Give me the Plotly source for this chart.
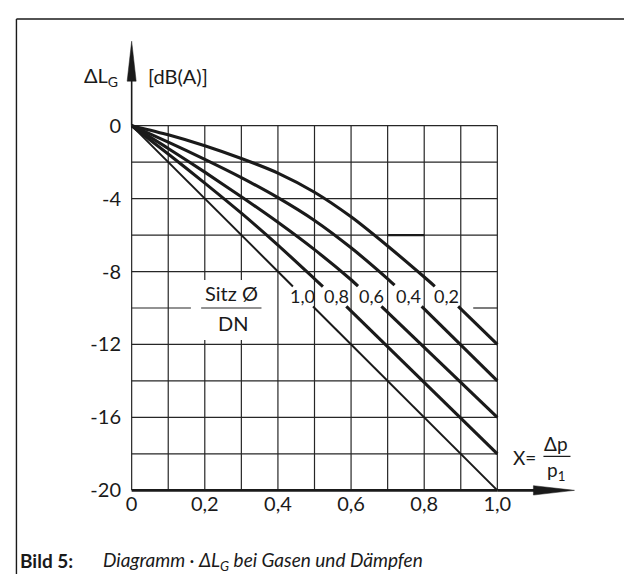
import plotly.graph_objects as go

# ---------------- data ----------------
x_tickvals = [0, 0.2, 0.4, 0.6, 0.8, 1.0]
x_ticktext = ["0", "0,2", "0,4", "0,6", "0,8", "1,0"]
y_tickvals = [0, -4, -8, -12, -16, -20]
y_ticktext = ["0", "-4", "-8", "-12", "-16", "-20"]

grid_x = [0, 0.1, 0.2, 0.3, 0.4, 0.5, 0.6, 0.7, 0.8, 0.9, 1.0]
grid_y = [0, -2, -4, -6, -8, -10, -12, -14, -16, -18, -20]

# vertical grid lines broken behind the "Sitz Ø / DN" label
box_break_x = [0.2, 0.3]
box_break_y = [-8.47, -11.75]
# pieces of the -10 grid line that remain visible
line10_pieces = [[0, 0.162], [0.19, 0.355], [0.934, 1.0]]
# thicker grid piece at -6
thick_piece_x = [0.7, 0.8]
thick_piece_y = [-6, -6]

ratio_labels = ["1,0", "0,8", "0,6", "0,4", "0,2"]
label_x = [0.468, 0.560, 0.656, 0.756, 0.86]
label_y = -9.36

# Sitz/DN = 1.0
c10_up_x = [0, 0.441]
c10_up_y = [0, -8.82]
c10_lo_x = [0.496, 1.0]
c10_lo_y = [-9.92, -20]
# Sitz/DN = 0.8
c08_up_x = [0, 0.1, 0.2, 0.3, 0.4, 0.5, 0.523]
c08_up_y = [0, -1.55, -3.15, -4.8, -6.55, -8.4, -8.83]
c08_lo_x = [0.587, 1.0]
c08_lo_y = [-9.91, -18]
# Sitz/DN = 0.6
c06_up_x = [0, 0.1, 0.2, 0.3, 0.4, 0.5, 0.6, 0.619]
c06_up_y = [0, -1.25, -2.55, -3.9, -5.3, -6.8, -8.45, -8.8]
c06_lo_x = [0.683, 1.0]
c06_lo_y = [-9.91, -16]
# Sitz/DN = 0.4
c04_up_x = [0, 0.1, 0.2, 0.3, 0.4, 0.5, 0.6, 0.7, 0.719]
c04_up_y = [0, -0.9, -1.85, -2.85, -3.95, -5.2, -6.7, -8.4, -8.75]
c04_lo_x = [0.793, 1.0]
c04_lo_y = [-9.91, -14]
# Sitz/DN = 0.2
c02_up_x = [0, 0.1, 0.2, 0.3, 0.4, 0.5, 0.6, 0.7, 0.8, 0.829]
c02_up_y = [0, -0.5, -1.1, -1.8, -2.6, -3.65, -5.0, -6.6, -8.3, -8.81]
c02_lo_x = [0.893, 1.0]
c02_lo_y = [-9.91, -12]

# ---------------- layout geometry ----------------
W, H = 632, 574
XR = [-0.01, 1.01]
YR = [-20.2, 0.2]
L, T = 120.35, 113.85
PW, PH = 372.3, 372.3
R = W - L - PW
B = H - T - PH

FONT = "Lato"
INK = "#1a1a1a"
GRID = "#262626"


def px(xp):
    return (xp - L) / PW


def py(yp):
    return 1 - (yp - T) / PH


fig = go.Figure()

# grid: vertical lines
for gx in grid_x:
    if gx in box_break_x:
        xs = [gx, gx, None, gx, gx]
        ys = [0, box_break_y[0], None, box_break_y[1], -20]
    else:
        xs = [gx, gx]
        ys = [0, -20]
    fig.add_trace(go.Scatter(x=xs, y=ys, mode="lines", line=dict(color=GRID, width=1.2),
                             hoverinfo="skip", showlegend=False))
# grid: horizontal lines
for gy in grid_y:
    if gy == -10:
        xs, ys = [], []
        for a, b in line10_pieces:
            xs += [a, b, None]
            ys += [gy, gy, None]
        w = 1.2
    else:
        xs = [0, 1.0]
        ys = [gy, gy]
        w = 2.6 if gy == -20 else 1.2
    fig.add_trace(go.Scatter(x=xs, y=ys, mode="lines", line=dict(color=GRID if gy != -20 else INK, width=w),
                             hoverinfo="skip", showlegend=False))
fig.add_trace(go.Scatter(x=thick_piece_x, y=thick_piece_y, mode="lines",
                         line=dict(color=INK, width=2.2), hoverinfo="skip", showlegend=False))

# curves
curves = [
    (c10_up_x, c10_up_y, c10_lo_x, c10_lo_y, 2.0),
    (c08_up_x, c08_up_y, c08_lo_x, c08_lo_y, 3.1),
    (c06_up_x, c06_up_y, c06_lo_x, c06_lo_y, 3.1),
    (c04_up_x, c04_up_y, c04_lo_x, c04_lo_y, 3.1),
    (c02_up_x, c02_up_y, c02_lo_x, c02_lo_y, 3.1),
]
for name, (ux, uy, lx, ly, w) in zip(ratio_labels, curves):
    fig.add_trace(go.Scatter(x=ux, y=uy, mode="lines", name=name,
                             line=dict(color=INK, width=w, shape="spline", smoothing=0.6),
                             showlegend=False))
    fig.add_trace(go.Scatter(x=lx, y=ly, mode="lines", name=name,
                             line=dict(color=INK, width=w), showlegend=False))

annotations = []
for t, lx in zip(ratio_labels, label_x):
    annotations.append(dict(x=lx, y=label_y, xref="x", yref="y", text=t, showarrow=False,
                            font=dict(family=FONT, size=18, color=INK)))


def txt(xp, yp, text, size=19, xanchor="center", yanchor="middle"):
    annotations.append(dict(x=px(xp), y=py(yp), xref="paper", yref="paper", text=text,
                            showarrow=False, xanchor=xanchor, yanchor=yanchor,
                            font=dict(family=FONT, size=size, color=INK)))


txt(224, 285, "Sitz Ø", size=20)
txt(225, 315, "DN", size=20)
txt(112, 68, "ΔL<sub>G</sub>", size=20, xanchor="right")
txt(138, 68, "[dB(A)]", size=20, xanchor="left")
txt(530, 450, "X=", size=19, xanchor="right")
txt(548, 436, "Δp", size=19)
txt(548, 463, "p<sub>1</sub>", size=19)
txt(11, 553, "<b>Bild 5:</b>", size=19, xanchor="left")
txt(93, 553, "<i>Diagramm · ΔL<sub>G</sub> bei Gasen und Dämpfen</i>", size=19, xanchor="left")

shapes = [
    # frame
    dict(type="line", xref="paper", yref="paper", x0=px(9), y0=py(10.7), x1=px(640), y1=py(10.7),
         line=dict(color=INK, width=1.4)),
    dict(type="line", xref="paper", yref="paper", x0=px(9), y0=py(10.7), x1=px(9), y1=py(580),
         line=dict(color=INK, width=1.4)),
    # y arrow shaft + head
    dict(type="line", xref="paper", yref="paper", x0=px(124), y0=py(117.5), x1=px(124), y1=py(70),
         line=dict(color=INK, width=1.6)),
    dict(type="path", xref="paper", yref="paper",
         path=f"M {px(124)},{py(33)} L {px(119.5)},{py(73)} L {px(128.5)},{py(73)} Z",
         fillcolor=INK, line=dict(color=INK, width=0.5)),
    # x arrow shaft + head
    dict(type="line", xref="paper", yref="paper", x0=px(489), y0=py(482.5), x1=px(527), y1=py(482.5),
         line=dict(color=INK, width=2.6)),
    dict(type="path", xref="paper", yref="paper",
         path=f"M {px(566)},{py(482.5)} L {px(525)},{py(477.8)} L {px(525)},{py(487.2)} Z",
         fillcolor=INK, line=dict(color=INK, width=0.5)),
    # fraction bar
    dict(type="line", xref="paper", yref="paper", x0=px(535), y0=py(448.5), x1=px(562), y1=py(448.5),
         line=dict(color=INK, width=1.2)),
]

fig.update_layout(
    width=W, height=H,
    margin=dict(l=L, r=R, t=T, b=B, pad=0),
    paper_bgcolor="white", plot_bgcolor="white",
    showlegend=False,
    annotations=annotations,
    shapes=shapes,
    xaxis=dict(range=XR, showgrid=False, zeroline=False, showline=False,
               tickvals=x_tickvals, ticktext=x_ticktext, ticks="", ticklabelstandoff=-4,
               tickfont=dict(family=FONT, size=20, color=INK), fixedrange=True),
    yaxis=dict(range=YR, showgrid=False, zeroline=False, showline=False,
               tickvals=y_tickvals, ticktext=y_ticktext, ticks="", ticklabelstandoff=6,
               tickfont=dict(family=FONT, size=20, color=INK), fixedrange=True),
)

fig.write_html("out.html")
